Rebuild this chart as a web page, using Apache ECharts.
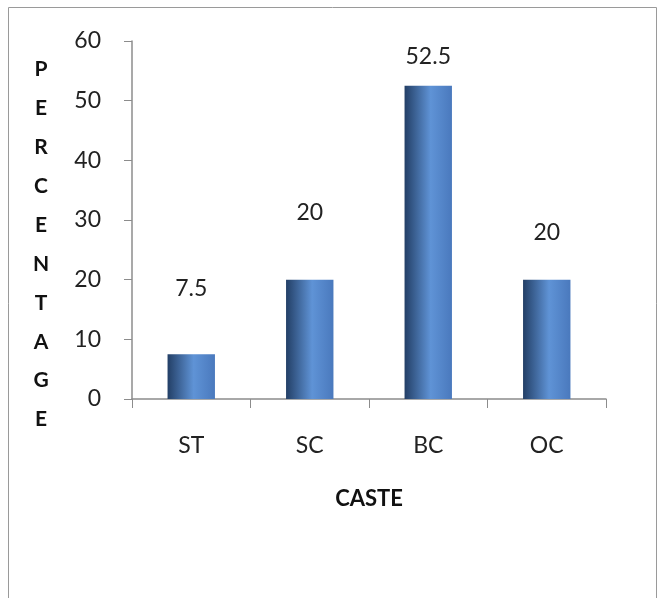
<!DOCTYPE html>
<html>
<head>
<meta charset="utf-8">
<script src="https://cdn.jsdelivr.net/npm/echarts@6/dist/echarts.min.js"></script>
<style>
  html, body { margin: 0; padding: 0; background: #fff; }
  #chart { width: 660px; height: 598px; }
</style>
</head>
<body>
<div id="chart"></div>
<script>
// data
const castes = ['ST', 'SC', 'BC', 'OC']
const percentages = [7.5, 20, 52.5, 20]
const yTicks = [0, 10, 20, 30, 40, 50, 60]
const yTitle = 'PERCENTAGE'

// label gaps above each bar (the original places them unevenly)
const labelGap = [54, 56, 18, 36]

const font = 'Lato, "Open Sans", sans-serif'

let myChart = echarts.init(document.getElementById('chart'))

let barColor = new echarts.graphic.LinearGradient(0, 0, 1, 0, [
  { offset: 0, color: '#233f66' },
  { offset: 0.55, color: '#5f93d6' },
  { offset: 1, color: '#4a79bd' }
])

let option = {
  animation: false,
  backgroundColor: '#fff',
  graphic: [{
    type: 'rect',
    shape: { x: 8.5, y: 7.5, width: 648, height: 620 },
    style: { fill: 'none', stroke: '#9a9a9a', lineWidth: 1 }
  }, {
    // stacked vertical axis title
    type: 'text',
    x: 41,
    y: 50,
    style: {
      text: yTitle.split('').join('\n'),
      fontFamily: font,
      fontWeight: 'bold',
      fontSize: 21,
      lineHeight: 38.9,
      fill: '#111',
      align: 'center',
      verticalAlign: 'top'
    }
  }],
  grid: { left: 132, right: 54, top: 41, bottom: 199, containLabel: false, outerBoundsMode: 'none' },
  xAxis: {
    type: 'category',
    data: castes,
    name: 'CASTE',
    nameLocation: 'middle',
    nameGap: 89,
    nameTextStyle: { fontFamily: font, fontWeight: 'bold', fontSize: 22, color: '#111' },
    axisLine: { lineStyle: { color: '#8c8c8c', width: 1.5 } },
    axisTick: { show: true, length: 9, alignWithLabel: false, lineStyle: { color: '#8c8c8c' } },
    axisLabel: { fontFamily: font, fontSize: 23, color: '#222', margin: 35 }
  },
  yAxis: {
    type: 'value',
    min: yTicks[0],
    max: yTicks[yTicks.length - 1],
    interval: 10,
    axisLine: { show: true, lineStyle: { color: '#8c8c8c', width: 1.5 } },
    axisTick: { show: true, length: 8, lineStyle: { color: '#8c8c8c' } },
    splitLine: { show: false },
    axisLabel: { fontFamily: font, fontSize: 23, color: '#222', margin: 31 }
  },
  series: [{
    type: 'bar',
    barWidth: '40%',
    data: percentages.map((v, i) => ({
      value: v,
      label: { distance: labelGap[i] }
    })),
    itemStyle: { color: barColor },
    label: {
      show: true,
      position: 'top',
      fontFamily: font,
      fontSize: 23,
      color: '#222'
    }
  }]
}
myChart.setOption(option)
</script>
</body>
</html>
